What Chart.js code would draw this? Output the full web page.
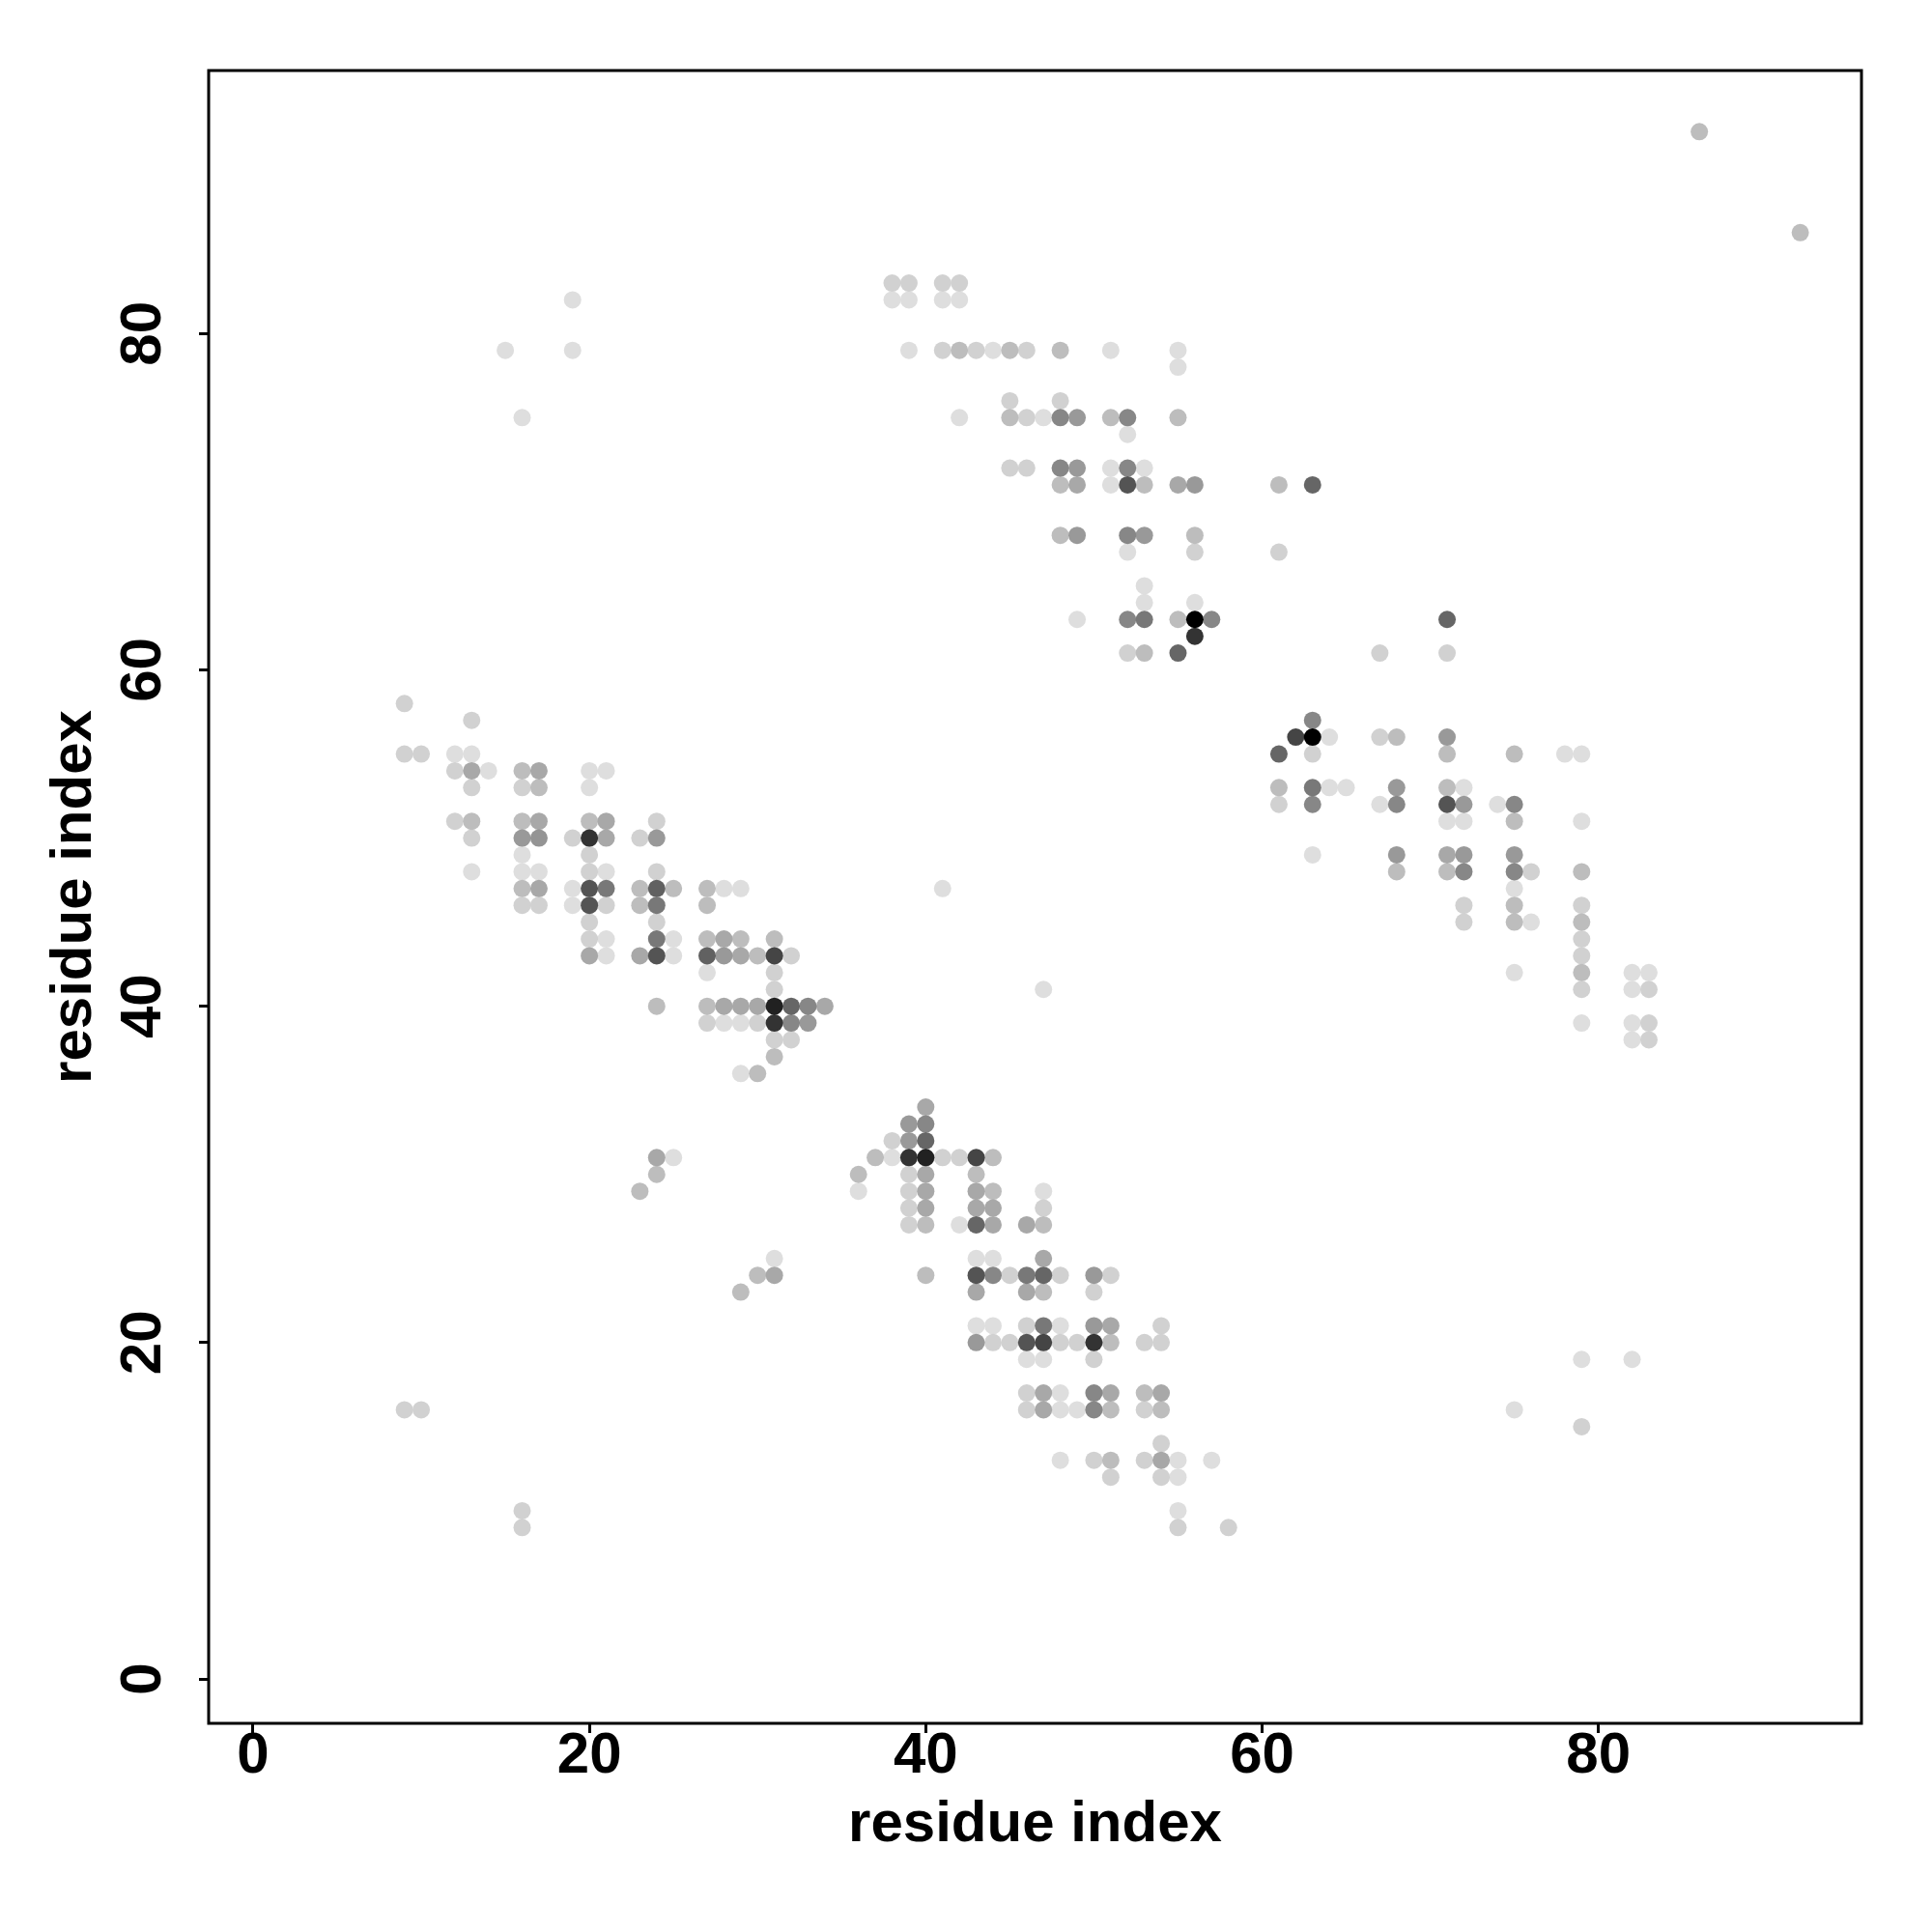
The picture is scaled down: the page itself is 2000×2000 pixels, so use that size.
<!DOCTYPE html>
<html>
<head>
<meta charset="utf-8">
<script src="https://cdn.jsdelivr.net/npm/chart.js@4.4.0/dist/chart.umd.min.js"></script>
<style>
  html, body { margin: 0; padding: 0; background: #fff; }
  #wrap { width: 2000px; height: 2000px; }
</style>
</head>
<body>
<div id="wrap"><canvas id="contactMap" width="2000" height="2000"></canvas></div>
<script>
// 行ごとの接触データ: y, その行の x, 確率
const rowY = [92, 86, 83, 82, 79, 78, 76, 75, 74, 72, 71, 68, 67, 65, 64, 63, 62, 61,
  58, 57, 56, 55, 54, 53, 52, 51, 50, 49, 48, 47, 46, 45, 44, 43, 42, 41, 40, 39, 38, 37, 36,
  34, 33, 32, 31, 30, 29, 28, 27, 25, 24, 23, 21, 20, 19, 17, 16, 15, 14, 13, 12, 10, 9];

const rowX = [
  [86], [92],
  [38, 39, 41, 42],
  [19, 38, 39, 41, 42],
  [15, 19, 39, 41, 42, 43, 44, 45, 46, 48, 51, 55],
  [55],
  [45, 48],
  [16, 42, 45, 46, 47, 48, 49, 51, 52, 55],
  [52],
  [45, 46, 48, 49, 51, 52, 53],
  [48, 49, 51, 52, 53, 55, 56, 61, 63],
  [48, 49, 52, 53, 56],
  [52, 56, 61],
  [53],
  [53, 56],
  [49, 52, 53, 55, 56, 57, 71],
  [56],
  [52, 53, 55, 67, 71],
  [9],
  [13, 63],
  [62, 63, 64, 67, 68, 71],
  [9, 10, 12, 13, 61, 63, 71, 75, 78, 79],
  [12, 13, 14, 16, 17, 20, 21],
  [13, 16, 17, 20, 61, 63, 64, 65, 68, 71, 72],
  [61, 63, 67, 68, 71, 72, 74, 75],
  [12, 13, 16, 17, 20, 21, 24, 71, 72, 75, 79],
  [13, 16, 17, 19, 20, 21, 23, 24],
  [16, 20, 63, 68, 71, 72, 75],
  [13, 16, 17, 20, 21, 24, 68, 71, 72, 75, 76, 79],
  [16, 17, 19, 20, 21, 23, 24, 25, 27, 28, 29, 41, 75],
  [16, 17, 19, 20, 21, 23, 24, 27, 72, 75, 79],
  [20, 24, 72, 75, 76, 79],
  [20, 21, 24, 25, 27, 28, 29, 31, 79],
  [20, 21, 23, 24, 25, 27, 28, 29, 30, 31, 32, 79],
  [27, 31, 75, 79, 82, 83],
  [31, 47, 79, 82, 83],
  [24, 27, 28, 29, 30, 31, 32, 33, 34],
  [27, 28, 29, 30, 31, 32, 33, 79, 82, 83],
  [31, 32, 82, 83],
  [31],
  [29, 30],
  [40],
  [39, 40],
  [38, 39, 40],
  [24, 25, 37, 38, 39, 40, 41, 42, 43, 44],
  [24, 36, 39, 40, 43],
  [23, 36, 39, 40, 43, 44, 47],
  [39, 40, 43, 44, 47],
  [39, 40, 42, 43, 44, 46, 47],
  [31, 43, 44, 47],
  [30, 31, 40, 43, 44, 45, 46, 47, 48, 50, 51],
  [29, 43, 46, 47, 50],
  [43, 44, 46, 47, 48, 50, 51, 54],
  [43, 44, 45, 46, 47, 48, 49, 50, 51, 53, 54],
  [46, 47, 50, 79, 82],
  [46, 47, 48, 50, 51, 53, 54],
  [9, 10, 46, 47, 48, 49, 50, 51, 53, 54, 75],
  [79],
  [54],
  [48, 50, 51, 53, 54, 55, 57],
  [51, 54, 55],
  [16, 55],
  [16, 55, 58]
];

const rowP = [
  [.26], [.26],
  [.18, .18, .18, .18],
  [.13, .13, .13, .13, .13],
  [.13, .13, .13, .18, .26, .18, .13, .26, .18, .26, .13, .13],
  [.13],
  [.18, .18],
  [.13, .13, .26, .18, .13, .47, .4, .26, .47, .26],
  [.13],
  [.18, .18, .47, .4, .13, .47, .13],
  [.26, .34, .13, .67, .26, .34, .4, .26, .6],
  [.26, .4, .47, .4, .26],
  [.13, .18, .18],
  [.13],
  [.13, .13],
  [.13, .47, .53, .26, 1, .47, .6],
  [.8],
  [.18, .26, .6, .18, .18],
  [.18],
  [.18, .47],
  [.73, 1, .13, .18, .26, .4],
  [.18, .18, .13, .13, .6, .18, .26, .26, .13, .13],
  [.18, .34, .13, .26, .34, .13, .13],
  [.18, .18, .26, .13, .26, .53, .13, .13, .4, .26, .13],
  [.18, .47, .13, .47, .67, .4, .13, .47],
  [.18, .26, .26, .34, .26, .34, .18, .13, .13, .26, .13],
  [.18, .4, .42, .18, .8, .34, .18, .4],
  [.13, .18, .13, .4, .34, .4, .4],
  [.13, .13, .13, .18, .13, .18, .26, .26, .47, .47, .18, .26],
  [.26, .34, .13, .67, .53, .26, .62, .26, .26, .13, .13, .13, .13],
  [.18, .18, .13, .67, .18, .26, .53, .26, .18, .26, .18],
  [.18, .18, .18, .26, .13, .26],
  [.18, .13, .53, .13, .26, .34, .26, .26, .18],
  [.34, .13, .34, .67, .13, .62, .4, .34, .26, .73, .18, .18],
  [.13, .18, .13, .26, .13, .13],
  [.18, .13, .18, .13, .18],
  [.26, .26, .34, .34, .34, .87, .6, .47, .34],
  [.18, .13, .13, .18, .8, .47, .4, .13, .13, .18],
  [.18, .18, .13, .18],
  [.26],
  [.13, .26],
  [.34],
  [.4, .47],
  [.18, .4, .6],
  [.34, .13, .26, .13, .8, .87, .18, .18, .73, .26],
  [.26, .26, .18, .34, .26],
  [.26, .13, .18, .34, .34, .26, .13],
  [.18, .34, .34, .34, .18],
  [.18, .26, .13, .6, .34, .34, .26],
  [.13, .13, .13, .34],
  [.26, .34, .26, .67, .47, .18, .53, .6, .18, .4, .18],
  [.26, .34, .34, .26, .18],
  [.13, .13, .18, .53, .13, .4, .34, .18],
  [.4, .18, .18, .67, .73, .18, .18, .8, .26, .18, .18],
  [.13, .13, .18, .13, .13],
  [.18, .34, .13, .47, .34, .26, .34],
  [.18, .18, .18, .34, .13, .13, .47, .26, .18, .26, .13],
  [.18],
  [.18],
  [.13, .18, .26, .18, .34, .13, .13],
  [.18, .18, .13],
  [.18, .13],
  [.18, .18, .18]
];

const axisTicks = [0, 20, 40, 60, 80];
const axisMin = -2.64;
const axisMax = 95.64;
const axisTitle = 'residue index';

document.addEventListener("DOMContentLoaded", function() {
  // 点と色を作る（薄いものから描いて濃いものを上に）
  let cells = [];
  rowY.forEach((y, r) => {
    rowX[r].forEach((x, k) => {
      cells.push({ x: x, y: y, p: rowP[r][k] });
    });
  });
  cells.sort((a, b) => a.p - b.p);

  let points = cells.map(c => ({ x: c.x, y: c.y }));
  let colors = cells.map(c => {
    let g = Math.round(255 * (1 - c.p));
    return `rgb(${g},${g},${g})`;
  });

  const fontFamily = '"Liberation Sans", Arial, Helvetica, sans-serif';
  const boldFont = { family: fontFamily, weight: 'bold', size: 60 };

  // 枠線
  const boxPlugin = {
    id: 'box',
    afterDraw(chart) {
      const a = chart.chartArea;
      const c = chart.ctx;
      c.save();
      c.strokeStyle = '#000';
      c.lineWidth = 3;
      c.strokeRect(a.left, a.top, a.right - a.left, a.bottom - a.top);
      c.restore();
    }
  };

  let ctx = document.getElementById('contactMap').getContext('2d');
  let contactChart = new Chart(ctx, {
    type: 'scatter',
    data: {
      datasets: [{
        data: points,
        backgroundColor: colors,
        pointRadius: 9,
        pointHoverRadius: 9,
        pointBorderWidth: 0,
        borderWidth: 0
      }]
    },
    options: {
      responsive: false,
      animation: false,
      events: [],
      layout: { padding: { top: 73, right: 73, left: 0, bottom: 0 } },
      plugins: {
        legend: { display: false },
        tooltip: { enabled: false }
      },
      scales: {
        x: {
          type: 'linear',
          position: 'bottom',
          min: axisMin,
          max: axisMax,
          afterBuildTicks: s => { s.ticks = axisTicks.map(v => ({ value: v })); },
          afterFit: s => { s.height = 216; },
          grid: { drawOnChartArea: false, drawTicks: true, tickLength: 10, tickWidth: 3, tickColor: '#000' },
          border: { display: false },
          ticks: { color: '#000', font: boldFont, padding: -12, maxRotation: 0, autoSkip: false },
          title: { display: true, text: axisTitle, color: '#000', font: boldFont, padding: { top: 0, bottom: 75 } }
        },
        y: {
          type: 'linear',
          position: 'left',
          min: axisMin,
          max: axisMax,
          afterBuildTicks: s => { s.ticks = axisTicks.map(v => ({ value: v })); },
          afterFit: s => { s.width = 216; },
          grid: { drawOnChartArea: false, drawTicks: true, tickLength: 10, tickWidth: 3, tickColor: '#000' },
          border: { display: false },
          ticks: { color: '#000', font: boldFont, padding: 23, minRotation: 90, maxRotation: 90, crossAlign: 'center', autoSkip: false },
          title: { display: true, text: axisTitle, color: '#000', font: boldFont, padding: { top: 41, bottom: 0 } }
        }
      }
    },
    plugins: [boxPlugin]
  });
});
</script>
</body>
</html>
